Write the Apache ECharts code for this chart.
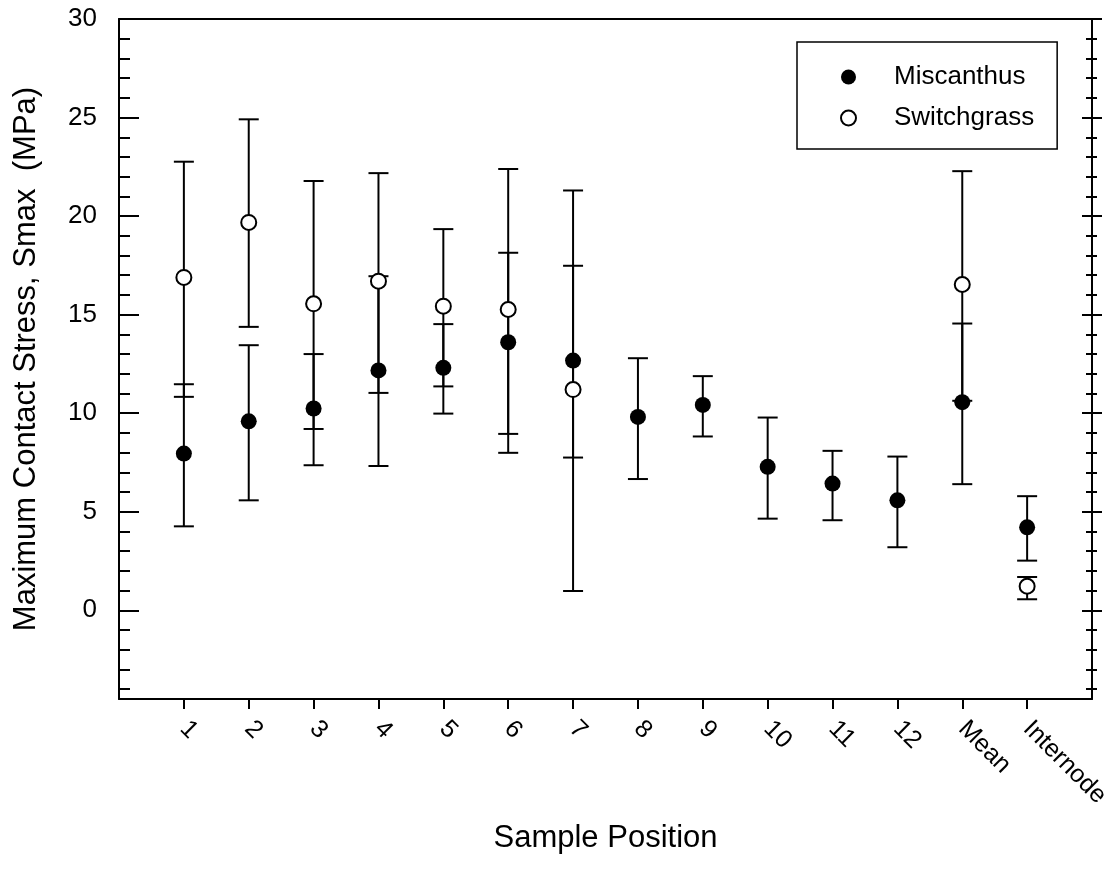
<!DOCTYPE html>
<html><head><meta charset="utf-8">
<script src="https://cdn.jsdelivr.net/npm/echarts@6/dist/echarts.min.js"></script>
<style>html,body{margin:0;padding:0;background:#fff}#c{width:1111px;height:884px}</style>
</head><body><div id="c"></div>
<script>
// ---- data ----
const categories = ['1','2','3','4','5','6','7','8','9','10','11','12','Mean','Internode'];
const miscMean = [7.95, 9.59, 10.24, 12.17, 12.30, 13.60, 12.67, 9.81, 10.42, 7.28, 6.43, 5.58, 10.56, 4.21];
const miscLow  = [4.26, 5.58, 7.36, 7.32, 9.98, 8.95, 7.75, 6.66, 8.82, 4.65, 4.57, 3.20, 6.40, 2.52];
const miscHigh = [11.47, 13.45, 13.00, 16.95, 14.52, 18.14, 17.48, 12.79, 11.88, 9.78, 8.09, 7.80, 14.55, 5.79];
const switchMean = [16.89, 19.68, 15.55, 16.70, 15.43, 15.26, 11.20, null, null, null, null, null, 16.53, 1.22];
const switchLow  = [10.83, 14.38, 9.20, 11.03, 11.36, 7.99, 0.98, null, null, null, null, null, 10.63, 0.56];
const switchHigh = [22.76, 24.91, 21.78, 22.18, 19.34, 22.39, 21.30, null, null, null, null, null, 22.28, 1.69];
const yMajorTicks = [0, 5, 10, 15, 20, 25, 30];
const yMinorTicks = [-4, -3, -2, -1, 1, 2, 3, 4, 6, 7, 8, 9, 11, 12, 13, 14, 16, 17, 18, 19, 21, 22, 23, 24, 26, 27, 28, 29];

// ---- chart ----
const FONT = '"Liberation Sans", Arial, sans-serif';
const positions = categories.map((c, i) => i + 1);
const chart = echarts.init(document.getElementById('c'), null, {renderer: 'canvas'});
const Y_MIN = -4.5, Y_MAX = 30, X_MIN = 0, X_MAX = 15;
const black = '#000';

function pts(vals) {
  return categories.map((c, i) => vals[i] == null ? null : [i + 1, vals[i]]).filter(Boolean);
}
function errorBars(name, low, high, z) {
  return {
    type: 'custom', name: name, xAxisIndex: 0, yAxisIndex: 0, z: z, silent: true,
    data: categories.map((c, i) => low[i] == null ? null : [i + 1, low[i], high[i]]).filter(Boolean),
    encode: {x: 0, y: [1, 2]},
    renderItem: function (params, api) {
      const x = api.value(0);
      const lo = api.coord([x, api.value(1)]);
      const hi = api.coord([x, api.value(2)]);
      const hw = 10;
      const style = {stroke: black, lineWidth: 2, fill: null};
      return {type: 'group', children: [
        {type: 'line', shape: {x1: lo[0], y1: lo[1], x2: hi[0], y2: hi[1]}, style: style},
        {type: 'line', shape: {x1: lo[0] - hw, y1: lo[1], x2: lo[0] + hw, y2: lo[1]}, style: style},
        {type: 'line', shape: {x1: hi[0] - hw, y1: hi[1], x2: hi[0] + hw, y2: hi[1]}, style: style}
      ]};
    }
  };
}
function tickAxis(pos, offset, len, vals) {
  return {
    type: 'value', position: pos, offset: offset, min: Y_MIN, max: Y_MAX,
    axisLine: {show: false}, axisLabel: {show: false}, splitLine: {show: false},
    axisTick: {show: true, inside: true, length: len, customValues: vals, lineStyle: {color: black, width: 2}}
  };
}

const option = {
  animation: false,
  backgroundColor: '#fff',
  textStyle: {fontFamily: FONT},
  grid: {left: 119, right: 19, top: 19, bottom: 185, containLabel: false, outerBoundsMode: 'none'},
  legend: {
    show: true, orient: 'vertical', left: 797, top: 42,
    padding: [21, 23, 17, 43], itemGap: 13, itemWidth: 15, itemHeight: 15,
    borderColor: black, borderWidth: 1.5, backgroundColor: '#fff', borderRadius: 0,
    textStyle: {fontSize: 26, fontFamily: FONT, color: black, padding: [0, 0, 0, 33], lineHeight: 28},
    data: [
      {name: 'Miscanthus', icon: 'circle', itemStyle: {color: black, borderWidth: 0}},
      {name: 'Switchgrass', icon: 'circle', itemStyle: {color: '#fff', borderColor: black, borderWidth: 2}}
    ]
  },
  xAxis: [
    {
      type: 'value', position: 'bottom', min: X_MIN, max: X_MAX,
      name: 'Sample Position', nameLocation: 'middle', nameGap: 124,
      nameTextStyle: {fontSize: 31, fontFamily: FONT, color: black},
      axisLine: {show: true, onZero: false, lineStyle: {color: black, width: 2}},
      axisTick: {show: true, inside: false, length: 10, customValues: positions, lineStyle: {color: black, width: 2}},
      axisLabel: {show: true, customValues: positions, rotate: -45, margin: 26, fontSize: 25, fontFamily: FONT, color: black,
        formatter: function (v) { return categories[Math.round(v) - 1] || ''; }},
      splitLine: {show: false}
    },
    {
      type: 'value', position: 'top', min: X_MIN, max: X_MAX,
      axisLine: {show: true, onZero: false, lineStyle: {color: black, width: 2}},
      axisTick: {show: false}, axisLabel: {show: false}, splitLine: {show: false}
    }
  ],
  yAxis: [
    {
      type: 'value', position: 'left', min: Y_MIN, max: Y_MAX,
      name: 'Maximum Contact Stress, Smax  (MPa)', nameLocation: 'middle', nameGap: 77,
      nameTextStyle: {fontSize: 31, fontFamily: FONT, color: black},
      axisLine: {show: true, onZero: false, lineStyle: {color: black, width: 2}},
      axisTick: {show: false},
      axisLabel: {show: true, customValues: yMajorTicks, margin: 22, fontSize: 26, fontFamily: FONT, color: black},
      splitLine: {show: false}
    },
    tickAxis('left', 10, 20, yMajorTicks),
    tickAxis('left', 5, 11, yMinorTicks),
    {
      type: 'value', position: 'right', min: Y_MIN, max: Y_MAX,
      axisLine: {show: true, onZero: false, lineStyle: {color: black, width: 2}},
      axisTick: {show: false}, axisLabel: {show: false}, splitLine: {show: false}
    },
    tickAxis('right', 10, 20, yMajorTicks),
    tickAxis('right', 5, 11, yMinorTicks)
  ],
  series: [
    errorBars('Miscanthus SD', miscLow, miscHigh, 2),
    errorBars('Switchgrass SD', switchLow, switchHigh, 2),
    {
      type: 'scatter', name: 'Miscanthus', xAxisIndex: 0, yAxisIndex: 0, z: 3,
      symbol: 'circle', symbolSize: 16, data: pts(miscMean),
      itemStyle: {color: black, borderWidth: 0, opacity: 1}
    },
    {
      type: 'scatter', name: 'Switchgrass', xAxisIndex: 0, yAxisIndex: 0, z: 4,
      symbol: 'circle', symbolSize: 15, data: pts(switchMean),
      itemStyle: {color: '#fff', borderColor: black, borderWidth: 2, opacity: 1}
    }
  ]
};
chart.setOption(option);
</script></body></html>
